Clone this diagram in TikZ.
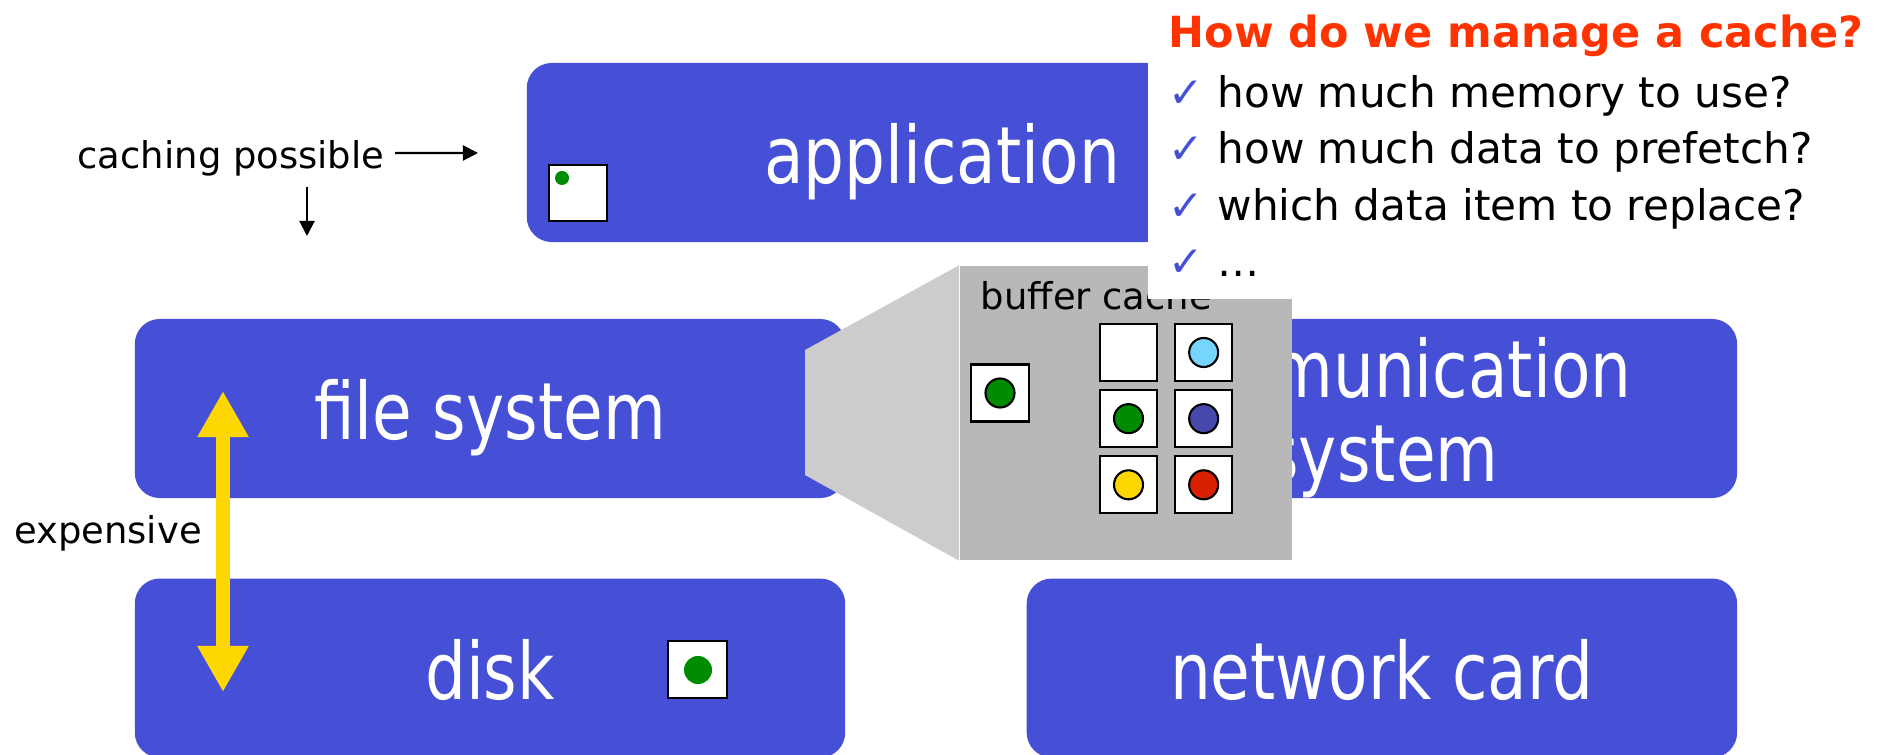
\documentclass[tikz,border=0pt]{standalone}
\usepackage{fontspec}
\setmainfont{DejaVu Sans}
\newfontfamily\boxfont{DejaVu Sans}[FakeStretch=0.815]
\usepackage{tikz}
\usetikzlibrary{positioning, arrows.meta}

\definecolor{layerblue}{RGB}{70,80,214}
\definecolor{panelgray}{RGB}{184,184,184}
\definecolor{sidegray}{RGB}{204,204,204}
\definecolor{itemgreen}{RGB}{0,140,0}
\definecolor{itemcyan}{RGB}{117,213,255}
\definecolor{itemnavy}{RGB}{70,73,170}
\definecolor{itemyellow}{RGB}{255,215,0}
\definecolor{itemred}{RGB}{217,32,0}
\definecolor{titlered}{RGB}{255,51,0}
\definecolor{costyellow}{RGB}{255,215,0}

\begin{document}
\begin{tikzpicture}[x=0.01cm, y=-0.01cm]
	% Define styles
	\tikzset{
		layer/.style={rectangle, rounded corners=0.25cm, fill=layerblue, text=white, minimum width=7.1cm, minimum height=1.79cm, inner sep=0pt, font=\boxfont\fontsize{22.5}{24}\selectfont, text height=0.7cm, text depth=0.08cm},
		note/.style={font=\fontsize{10.5}{12.6}\selectfont, inner sep=0.1cm},
		slot/.style={rectangle, draw, line width=0.6pt, fill=white, minimum size=0.57cm, inner sep=0pt},
		item/.style={circle, draw, line width=0.6pt, minimum size=0.29cm, inner sep=0pt},
		pointer/.style={draw, line width=0.6pt, -{Triangle[length=0.15cm, width=0.15cm]}},
		cost/.style={draw=costyellow, line width=0.14cm, {Triangle[length=0.46cm, width=0.48cm]}-{Triangle[length=0.46cm, width=0.48cm]}}
	}
	\useasboundingbox (0,0) rectangle (1885,755);
	
	% Layers
	\node[layer, minimum width=8.3cm] (app) at (942,152.5) {application};
	\node[layer] (fs) at (490,408.5) {file system};
	\node[layer, below=0.79cm of fs] (disk) {disk};
	\node[layer, right=1.8cm of fs, align=center, text height=1.54cm] (comm) {communication\\system};
	\node[layer, below=0.79cm of comm] (net) {network card};
	
	% Buffer cache
	\node[fill=panelgray, minimum width=3.32cm, minimum height=2.94cm, inner sep=0pt] (panel) at (1126,413) {};
	\fill[sidegray] (805,350) -- (panel.north west) -- (panel.south west) -- (805,475) -- cycle;
	\node[note, anchor=base west] (buffer) at (970,310) {buffer cache};
	
	% Blocks
	\node[slot, minimum width=0.58cm, minimum height=0.56cm] (appslot) at (578,193) {};
	\node[item, draw=none, fill=itemgreen, minimum size=0.14cm] (appdot) at (562,178) {};
	\node[slot, minimum width=0.59cm] (diskslot) at (697.5,669.5) {};
	\node[item, draw=none, fill=itemgreen, minimum size=0.28cm] (diskdot) at (698,670) {};
	\node[slot, minimum width=0.58cm] (loose) at (1000,393) {};
	\node[item, fill=itemgreen] (loosedot) at (loose) {};
	
	\node[slot] (s11) at (1128.5,352.5) {};
	\node[slot, right=0.16cm of s11] (s12) {};
	\node[slot, below=0.07cm of s11] (s21) {};
	\node[slot, right=0.16cm of s21] (s22) {};
	\node[slot, below=0.07cm of s21] (s31) {};
	\node[slot, right=0.16cm of s31] (s32) {};
	
	\node[item, fill=itemcyan] (d12) at (s12) {};
	\node[item, fill=itemgreen] (d21) at (s21) {};
	\node[item, fill=itemnavy] (d22) at (s22) {};
	\node[item, fill=itemyellow] (d31) at (s31) {};
	\node[item, fill=itemred] (d32) at (s32) {};
	
	% Questions
	\node[fill=white, anchor=north west, minimum width=7.38cm, minimum height=2.98cm, inner sep=0pt] (sheet) at (1147,0) {};
	\node[anchor=north west, align=left, inner sep=0pt, font=\fontsize{12}{16.1}\selectfont] (questions) at (1168,14) {%
		\textcolor{titlered}{\bfseries\fontsize{12.2}{14}\selectfont How do we manage a cache?}\\[0.9pt]
		\textcolor{layerblue}{✓} how much memory to use?\\
		\textcolor{layerblue}{✓} how much data to prefetch?\\
		\textcolor{layerblue}{✓} which data item to replace?\\
		\textcolor{layerblue}{✓} …};
	
	% Arrows
	\coordinate (capright) at (478,153);
	\coordinate (capdown) at (307,236);
	\node[note] (caching) at (231,158) {caching possible};
	\path[pointer] ([yshift=0.05cm]caching.east) -- (capright);
	\path[pointer] (caching.south -| capdown) -- (capdown);
	
	\coordinate (costtop) at (223,391);
	\coordinate (costbottom) at (223,692);
	\path[cost] (costtop) -- (costbottom);
	\node[note] (expensive) at (108,533) {expensive};
\end{tikzpicture}
\end{document}
